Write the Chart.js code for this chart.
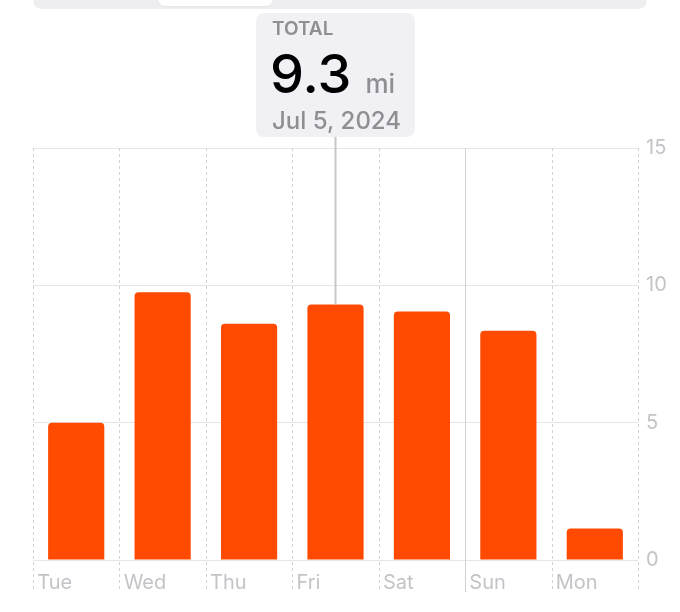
<!DOCTYPE html>
<html>
<head>
<meta charset="utf-8">
<script src="https://cdn.jsdelivr.net/npm/chart.js@4"></script>
<style>
  html, body { margin: 0; padding: 0; background: #fff; }
  canvas { display: block; }
</style>
</head>
<body>
<canvas id="myChart" width="680" height="612"></canvas>
<script>
// data
var days = ['Tue', 'Wed', 'Thu', 'Fri', 'Sat', 'Sun', 'Mon'];
var distance = [5.0, 9.75, 8.6, 9.3, 9.05, 8.35, 1.15];
var yTicks = [0, 5, 10, 15];
var selectedIndex = 3;
var selectedDate = 'Jul 5, 2024';
var unit = 'mi';
var weekStartIndex = 5; // solid line before Sun

var barColor = '#FF4A00';
var gridColor = '#e5e5ea';
var dashColor = '#d1d1d6';
var labelColor = '#c4c4c8';
var FONT = 'Inter, "Noto Sans", sans-serif';

function roundRect(ctx, x, y, w, h, r) {
    ctx.beginPath();
    ctx.moveTo(x + r, y);
    ctx.lineTo(x + w - r, y);
    ctx.quadraticCurveTo(x + w, y, x + w, y + r);
    ctx.lineTo(x + w, y + h - r);
    ctx.quadraticCurveTo(x + w, y + h, x + w - r, y + h);
    ctx.lineTo(x + r, y + h);
    ctx.quadraticCurveTo(x, y + h, x, y + h - r);
    ctx.lineTo(x, y + r);
    ctx.quadraticCurveTo(x, y, x + r, y);
    ctx.closePath();
}

// vertical day separators (dashed, solid at week start) + header bits
var decorations = {
    id: 'decorations',
    beforeDatasetsDraw: function(chart) {
        var ctx = chart.ctx;
        var area = chart.chartArea;
        var step = area.width / days.length;
        ctx.save();
        ctx.lineWidth = 1;
        for (var i = 0; i <= days.length; i++) {
            var x = Math.round(area.left + i * step) + 0.5;
            if (i === weekStartIndex) {
                ctx.setLineDash([]);
                ctx.strokeStyle = '#d1d1d6';
            } else {
                ctx.setLineDash([3, 3]);
                ctx.strokeStyle = dashColor;
            }
            ctx.beginPath();
            ctx.moveTo(x, area.top);
            ctx.lineTo(x, area.bottom + 32);
            ctx.stroke();
        }
        ctx.restore();
    },
    afterDraw: function(chart) {
        var ctx = chart.ctx;
        var xs = chart.scales.x;
        var meta = chart.getDatasetMeta(0);
        var bar = meta.data[selectedIndex];
        var cx = xs.getPixelForValue(selectedIndex);
        ctx.save();

        // segmented control peeking at the top
        ctx.fillStyle = '#eeeef0';
        roundRect(ctx, 33, -24, 614, 33, 10);
        ctx.fill();
        ctx.shadowColor = 'rgba(0,0,0,0.08)';
        ctx.shadowBlur = 3;
        ctx.fillStyle = '#ffffff';
        roundRect(ctx, 158, -24, 115, 30, 8);
        ctx.fill();
        ctx.shadowBlur = 0;

        // selection line
        ctx.strokeStyle = '#c7c7cc';
        ctx.lineWidth = 2;
        ctx.beginPath();
        ctx.moveTo(cx, 137);
        ctx.lineTo(cx, bar.y);
        ctx.stroke();

        // callout box
        var bw = 159, bx = cx - bw / 2;
        ctx.fillStyle = '#f0f0f5';
        roundRect(ctx, bx, 13, bw, 124, 9);
        ctx.fill();

        ctx.textAlign = 'left';
        ctx.textBaseline = 'alphabetic';
        ctx.fillStyle = '#8e8e93';
        ctx.font = '600 19px ' + FONT;
        ctx.fillText('TOTAL', bx + 16, 35);

        ctx.fillStyle = '#000000';
        ctx.font = '500 54px ' + FONT;
        var valText = distance[selectedIndex].toFixed(1);
        ctx.fillText(valText, bx + 14, 93);
        var vw = ctx.measureText(valText).width;

        ctx.fillStyle = '#8e8e93';
        ctx.font = '500 26px ' + FONT;
        ctx.fillText(unit, bx + 14 + vw + 14, 93);

        ctx.font = '500 24px ' + FONT;
        ctx.fillText(selectedDate, bx + 16, 129);
        ctx.restore();
    }
};

var element = document.getElementById('myChart').getContext('2d');
var chartData = {
    labels: days,
    datasets: [{
        label: 'Distance',
        data: distance,
        backgroundColor: barColor,
        borderRadius: 4,
        borderSkipped: 'start',
        categoryPercentage: 1,
        barPercentage: 0.65
    }]
};

var chartOptions = {
    responsive: false,
    animation: false,
    devicePixelRatio: 1,
    layout: { padding: { left: 33, top: 148, right: 0, bottom: 0 } },
    plugins: { legend: { display: false }, tooltip: { enabled: false } },
    scales: {
        x: {
            offset: true,
            grid: { display: false },
            border: { display: false },
            ticks: {
                align: 'start',
                labelOffset: -39,
                padding: 3,
                color: labelColor,
                font: { family: FONT, size: 20 }
            },
            afterFit: function(s) { s.height = 52; }
        },
        y: {
            position: 'right',
            min: 0,
            max: 15,
            afterBuildTicks: function(s) { s.ticks = yTicks.map(function(v) { return { value: v }; }); },
            grid: { color: gridColor, drawTicks: false },
            border: { display: false },
            ticks: {
                padding: 8,
                color: labelColor,
                font: { family: FONT, size: 20 }
            },
            afterFit: function(s) { s.width = 42; }
        }
    }
};

var chart = new Chart(element, { type: 'bar', data: chartData, options: chartOptions, plugins: [decorations] });
</script>
</body>
</html>
